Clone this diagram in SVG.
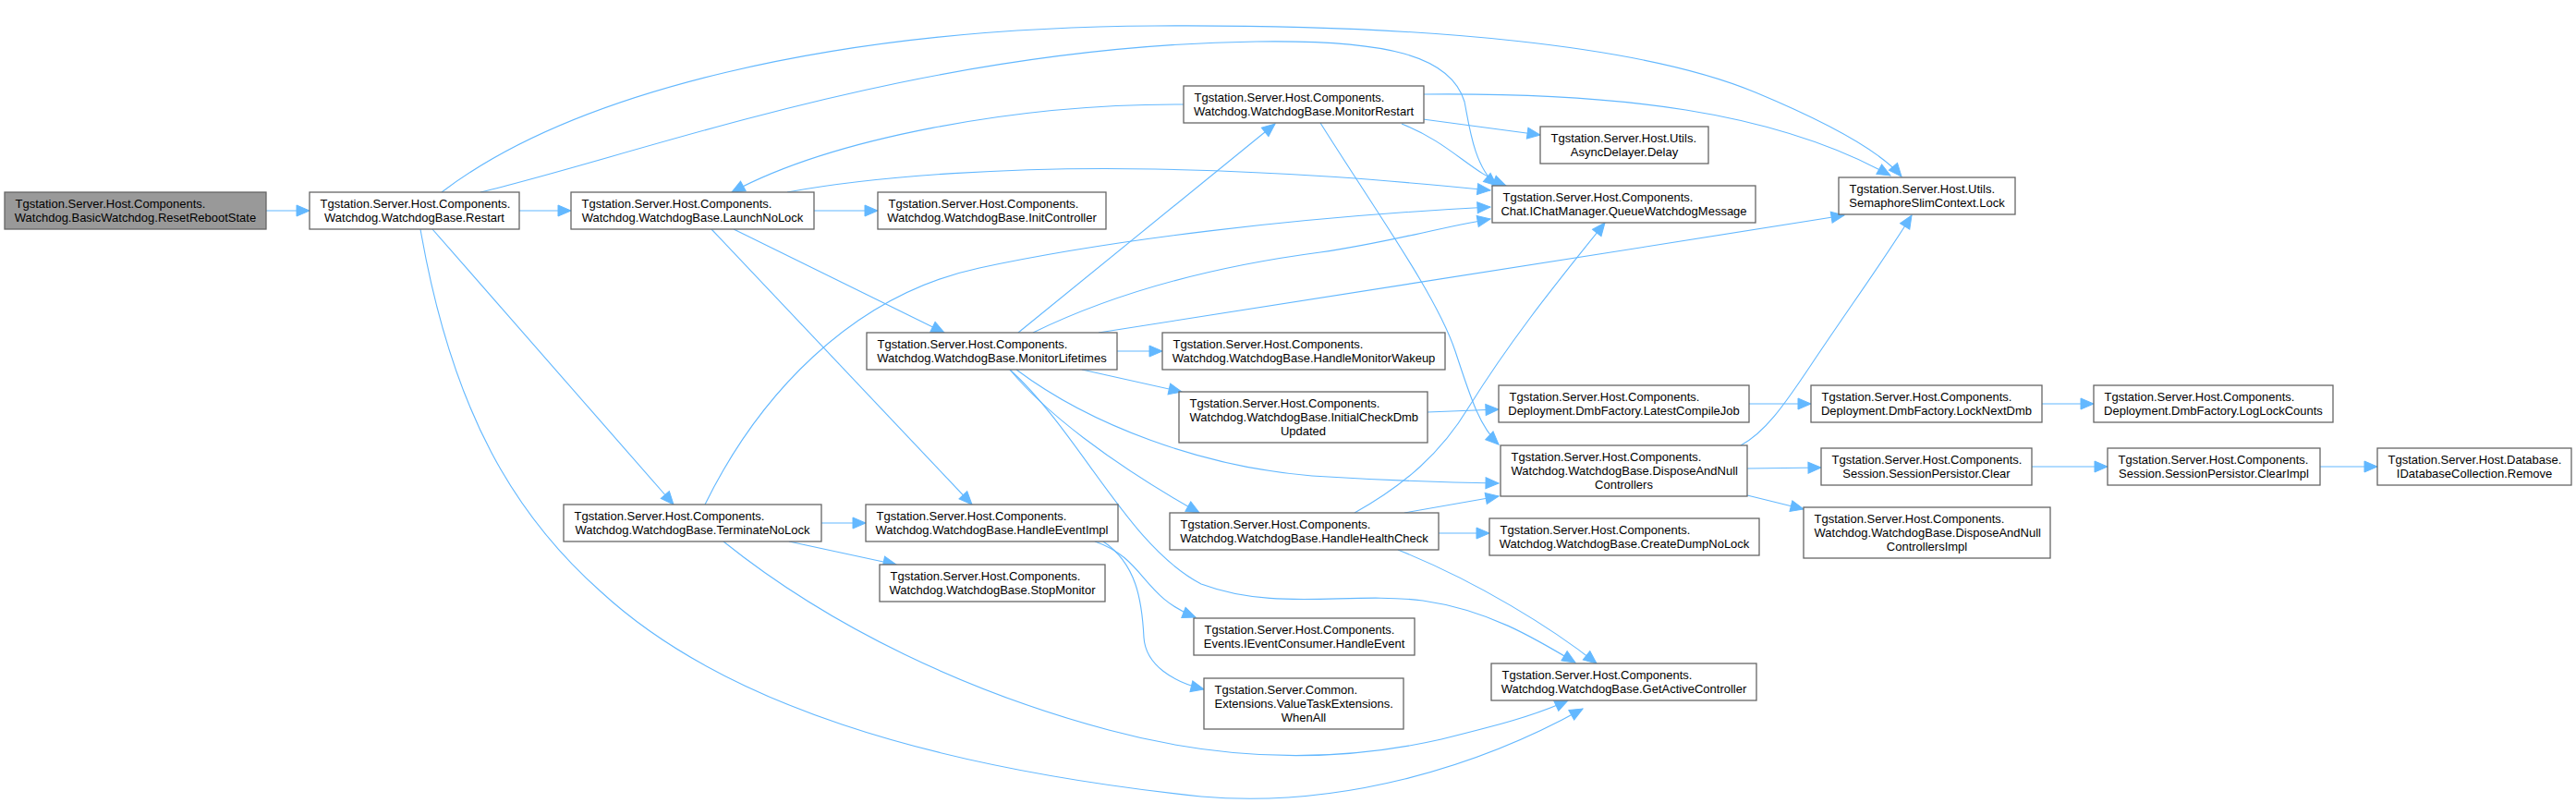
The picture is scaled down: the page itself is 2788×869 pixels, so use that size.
<svg xmlns="http://www.w3.org/2000/svg" width="2788" height="869" viewBox="0 0 2788 869">
<style>
.n rect{fill:#ffffff;stroke:#666666;stroke-width:1.3}
.root rect{fill:#999999}
text{font-family:"Liberation Sans",Arial,Helvetica,sans-serif;font-size:13px;fill:#000000}
.m{text-anchor:middle}
.e path{fill:none;stroke:#63B8FF;stroke-width:1.1;marker-end:url(#a)}
</style>
<defs>
<marker id="a" markerUnits="userSpaceOnUse" markerWidth="16" markerHeight="14" refX="14" refY="6" orient="auto" overflow="visible">
<path d="M0,0 L14,6 L0,12 z" fill="#63B8FF" stroke="#63B8FF" stroke-width="1"/>
</marker>
</defs>
<rect width="2788" height="869" fill="#ffffff"/>
<g id="edges" class="e">
<path d="M288,228 L335,228"/>
<path d="M562,228 L618,228"/>
<path d="M478,208 C620,100 900,30 1250,28 C1550,26 1780,50 1900,100 C1960,125 2030,158 2058,191"/>
<path d="M520,208 C700,165 1000,50 1360,45 C1500,43 1570,60 1585,110 C1590,135 1595,180 1620,201"/>
<path d="M468,248 L729,546"/>
<path d="M455,248 C490,450 560,560 650,640 C780,760 1000,830 1300,862 C1450,875 1600,830 1713,767"/>
<path d="M881,228 L950,228"/>
<path d="M794,248 L1022,360"/>
<path d="M770,248 L1052,546"/>
<path d="M852,208 C950,190 1100,180 1250,183 C1400,186 1500,195 1613,206"/>
<path d="M1281,113 C1100,112 900,150 792,208"/>
<path d="M1540,129 L1667,146"/>
<path d="M1517,134 C1570,155 1590,185 1630,201"/>
<path d="M1541,102 C1750,100 1920,120 2046,190"/>
<path d="M1429,133 C1490,230 1555,320 1575,380 C1590,425 1600,460 1622,481"/>
<path d="M1102,360 L1380,134"/>
<path d="M1209,380 L1258,380"/>
<path d="M1171,400 L1279,424"/>
<path d="M1093,400 C1130,445 1200,500 1298,555"/>
<path d="M1093,400 C1170,470 1220,590 1300,632 C1380,662 1460,640 1540,650 C1610,660 1660,690 1705,717"/>
<path d="M1100,400 C1180,460 1300,505 1420,515 C1500,520 1560,522 1622,523"/>
<path d="M1118,360 C1200,320 1300,290 1429,273 C1500,263 1550,248 1613,237"/>
<path d="M1189,360 C1300,343 1700,280 1996,233"/>
<path d="M1545,446 L1622,443"/>
<path d="M1893,437 L1960,437"/>
<path d="M2210,437 L2266,437"/>
<path d="M1884,482 C1910,468 1930,440 1960,395 C2000,335 2040,280 2069,233"/>
<path d="M1891,507 L1971,506"/>
<path d="M1891,536 L1952,551"/>
<path d="M2199,505 L2281,505"/>
<path d="M2511,505 L2573,505"/>
<path d="M1466,555 C1520,525 1560,490 1590,440 C1640,360 1690,300 1737,241"/>
<path d="M1520,555 L1622,537"/>
<path d="M1557,577 L1612,577"/>
<path d="M1513,595 C1600,630 1680,680 1728,718"/>
<path d="M889,566 L937,566"/>
<path d="M854,586 L970,611"/>
<path d="M763,546 C820,430 920,320 1060,290 C1200,260 1400,235 1613,224"/>
<path d="M783,586 C900,680 1050,750 1200,790 C1330,825 1450,825 1560,800 C1620,785 1660,775 1697,758"/>
<path d="M1185,586 C1240,605 1235,645 1294,668"/>
<path d="M1194,586 C1230,610 1236,650 1238,690 C1240,720 1270,738 1303,746"/>
</g>
<g id="n0" class="n root"><rect x="5" y="208" width="283" height="40"/><text x="16.5" y="224.5">Tgstation.Server.Host.Components.</text><text x="146.5" y="239.5" class="m">Watchdog.BasicWatchdog.ResetRebootState</text></g>
<g id="n1" class="n"><rect x="335" y="208" width="227" height="40"/><text x="346.5" y="224.5">Tgstation.Server.Host.Components.</text><text x="448.5" y="239.5" class="m">Watchdog.WatchdogBase.Restart</text></g>
<g id="n2" class="n"><rect x="618" y="208" width="263" height="40"/><text x="629.5" y="224.5">Tgstation.Server.Host.Components.</text><text x="749.5" y="239.5" class="m">Watchdog.WatchdogBase.LaunchNoLock</text></g>
<g id="n3" class="n"><rect x="950" y="208" width="247" height="40"/><text x="961.5" y="224.5">Tgstation.Server.Host.Components.</text><text x="1073.5" y="239.5" class="m">Watchdog.WatchdogBase.InitController</text></g>
<g id="n4" class="n"><rect x="1281" y="93" width="260" height="40"/><text x="1292.5" y="109.5">Tgstation.Server.Host.Components.</text><text x="1411" y="124.5" class="m">Watchdog.WatchdogBase.MonitorRestart</text></g>
<g id="n5" class="n"><rect x="1667" y="137" width="182" height="40"/><text x="1678.5" y="153.5">Tgstation.Server.Host.Utils.</text><text x="1758" y="168.5" class="m">AsyncDelayer.Delay</text></g>
<g id="n6" class="n"><rect x="1615" y="201" width="285" height="40"/><text x="1626.5" y="217.5">Tgstation.Server.Host.Components.</text><text x="1757.5" y="232.5" class="m">Chat.IChatManager.QueueWatchdogMessage</text></g>
<g id="n7" class="n"><rect x="1990" y="192" width="191" height="40"/><text x="2001.5" y="208.5">Tgstation.Server.Host.Utils.</text><text x="2085.5" y="223.5" class="m">SemaphoreSlimContext.Lock</text></g>
<g id="n8" class="n"><rect x="938" y="360" width="271" height="40"/><text x="949.5" y="376.5">Tgstation.Server.Host.Components.</text><text x="1073.5" y="391.5" class="m">Watchdog.WatchdogBase.MonitorLifetimes</text></g>
<g id="n9" class="n"><rect x="1258" y="360" width="306" height="40"/><text x="1269.5" y="376.5">Tgstation.Server.Host.Components.</text><text x="1411" y="391.5" class="m">Watchdog.WatchdogBase.HandleMonitorWakeup</text></g>
<g id="n10" class="n"><rect x="1276" y="424" width="269" height="55"/><text x="1287.5" y="440.5">Tgstation.Server.Host.Components.</text><text x="1287.5" y="455.5">Watchdog.WatchdogBase.InitialCheckDmb</text><text x="1410.5" y="470.5" class="m">Updated</text></g>
<g id="n11" class="n"><rect x="1622" y="417" width="271" height="40"/><text x="1633.5" y="433.5">Tgstation.Server.Host.Components.</text><text x="1757.5" y="448.5" class="m">Deployment.DmbFactory.LatestCompileJob</text></g>
<g id="n12" class="n"><rect x="1960" y="417" width="250" height="40"/><text x="1971.5" y="433.5">Tgstation.Server.Host.Components.</text><text x="2085" y="448.5" class="m">Deployment.DmbFactory.LockNextDmb</text></g>
<g id="n13" class="n"><rect x="2266" y="417" width="259" height="40"/><text x="2277.5" y="433.5">Tgstation.Server.Host.Components.</text><text x="2395.5" y="448.5" class="m">Deployment.DmbFactory.LogLockCounts</text></g>
<g id="n14" class="n"><rect x="1624" y="482" width="267" height="55"/><text x="1635.5" y="498.5">Tgstation.Server.Host.Components.</text><text x="1635.5" y="513.5">Watchdog.WatchdogBase.DisposeAndNull</text><text x="1757.5" y="528.5" class="m">Controllers</text></g>
<g id="n15" class="n"><rect x="1971" y="485" width="228" height="40"/><text x="1982.5" y="501.5">Tgstation.Server.Host.Components.</text><text x="2085" y="516.5" class="m">Session.SessionPersistor.Clear</text></g>
<g id="n16" class="n"><rect x="2281" y="485" width="230" height="40"/><text x="2292.5" y="501.5">Tgstation.Server.Host.Components.</text><text x="2396" y="516.5" class="m">Session.SessionPersistor.ClearImpl</text></g>
<g id="n17" class="n"><rect x="2573" y="485" width="210" height="40"/><text x="2584.5" y="501.5">Tgstation.Server.Host.Database.</text><text x="2678" y="516.5" class="m">IDatabaseCollection.Remove</text></g>
<g id="n18" class="n"><rect x="1952" y="549" width="267" height="55"/><text x="1963.5" y="565.5">Tgstation.Server.Host.Components.</text><text x="1963.5" y="580.5">Watchdog.WatchdogBase.DisposeAndNull</text><text x="2085.5" y="595.5" class="m">ControllersImpl</text></g>
<g id="n19" class="n"><rect x="1266" y="555" width="291" height="40"/><text x="1277.5" y="571.5">Tgstation.Server.Host.Components.</text><text x="1411.5" y="586.5" class="m">Watchdog.WatchdogBase.HandleHealthCheck</text></g>
<g id="n20" class="n"><rect x="1612" y="561" width="292" height="40"/><text x="1623.5" y="577.5">Tgstation.Server.Host.Components.</text><text x="1758" y="592.5" class="m">Watchdog.WatchdogBase.CreateDumpNoLock</text></g>
<g id="n21" class="n"><rect x="610" y="546" width="279" height="40"/><text x="621.5" y="562.5">Tgstation.Server.Host.Components.</text><text x="749.5" y="577.5" class="m">Watchdog.WatchdogBase.TerminateNoLock</text></g>
<g id="n22" class="n"><rect x="937" y="546" width="273" height="40"/><text x="948.5" y="562.5">Tgstation.Server.Host.Components.</text><text x="1073.5" y="577.5" class="m">Watchdog.WatchdogBase.HandleEventImpl</text></g>
<g id="n23" class="n"><rect x="952" y="611" width="244" height="40"/><text x="963.5" y="627.5">Tgstation.Server.Host.Components.</text><text x="1074" y="642.5" class="m">Watchdog.WatchdogBase.StopMonitor</text></g>
<g id="n24" class="n"><rect x="1292" y="669" width="239" height="40"/><text x="1303.5" y="685.5">Tgstation.Server.Host.Components.</text><text x="1411.5" y="700.5" class="m">Events.IEventConsumer.HandleEvent</text></g>
<g id="n25" class="n"><rect x="1303" y="734" width="216" height="55"/><text x="1314.5" y="750.5">Tgstation.Server.Common.</text><text x="1314.5" y="765.5">Extensions.ValueTaskExtensions.</text><text x="1411" y="780.5" class="m">WhenAll</text></g>
<g id="n26" class="n"><rect x="1614" y="718" width="287" height="40"/><text x="1625.5" y="734.5">Tgstation.Server.Host.Components.</text><text x="1757.5" y="749.5" class="m">Watchdog.WatchdogBase.GetActiveController</text></g>
</svg>
